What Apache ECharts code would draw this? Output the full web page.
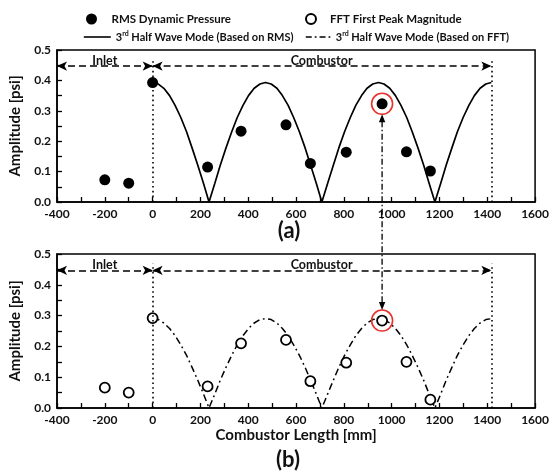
<!DOCTYPE html>
<html><head><meta charset="utf-8">
<script src="https://cdn.jsdelivr.net/npm/echarts@6/dist/echarts.min.js"></script>
<style>html,body{margin:0;padding:0;background:#fff}#c{width:552px;height:476px}</style>
</head><body><div id="c"></div>
<script>
// ---- data ----
const stationX = [-200, -100, 0, 230, 370, 558, 660, 810, 960, 1062, 1162];
const rmsPressure = [0.073, 0.062, 0.393, 0.115, 0.233, 0.254, 0.127, 0.164, 0.323, 0.165, 0.102];
const fftPeak = [0.066, 0.050, 0.292, 0.070, 0.210, 0.221, 0.087, 0.147, 0.284, 0.150, 0.027];
const highlightIndex = 8;

const modeX = [0,24,47,71,94,118,142,165,189,213,236,260,283,307,331,354,378,401,425,449,
  472,496,520,543,567,590,614,638,661,685,708,732,756,779,803,827,850,874,897,921,
  945,968,992,1016,1039,1063,1086,1110,1134,1157,1181,1205,1228,1252,1275,1299,1323,1346,1370,1394,
  1417];
const rmsMode = [0.393,0.388,0.374,0.350,0.318,0.278,0.231,0.178,0.121,0.061,0,0.061,0.121,0.178,0.231,0.278,0.318,0.350,0.374,0.388,
  0.393,0.388,0.374,0.350,0.318,0.278,0.231,0.178,0.121,0.061,0,0.061,0.121,0.178,0.231,0.278,0.318,0.350,0.374,0.388,
  0.393,0.388,0.374,0.350,0.318,0.278,0.231,0.178,0.121,0.061,0,0.061,0.121,0.178,0.231,0.278,0.318,0.350,0.374,0.388,
  0.393];
const fftMode = [0.290,0.287,0.276,0.258,0.235,0.205,0.171,0.132,0.090,0.045,0,0.045,0.090,0.132,0.171,0.205,0.235,0.258,0.276,0.287,
  0.290,0.287,0.276,0.258,0.235,0.205,0.171,0.132,0.090,0.045,0,0.045,0.090,0.132,0.171,0.205,0.235,0.258,0.276,0.287,
  0.290,0.287,0.276,0.258,0.235,0.205,0.171,0.132,0.090,0.045,0,0.045,0.090,0.132,0.171,0.205,0.235,0.258,0.276,0.287,
  0.290];

const inletRange = [-400, 0];
const combustorRange = [0, 1417];
const sectionY = 0.447;
const sectionLabels = ['Inlet', 'Combustor'];
const sectionLabelX = [-200, 707];
const xRange = [-400, 1600, 200];
const yRange = [0, 0.5, 0.1];
const panelLabels = ['(a)', '(b)'];
const seriesNames = ['RMS Dynamic Pressure', 'FFT First Peak Magnitude',
  '3rd Half Wave Mode (Based on RMS)', '3rd Half Wave Mode (Based on FFT)'];

// ---- chart ----
const FONT = 'Lato';
const DASHDOT = [7, 3.5, 1.8, 3.5];
const chart = echarts.init(document.getElementById('c'), null, {renderer: 'canvas'});
const zip = (xs, ys) => xs.map((x, i) => [x, ys[i]]);

function xAxis(gi, name) {
  return {
    type: 'value', gridIndex: gi, min: xRange[0], max: xRange[1], interval: xRange[2],
    name: name || '', nameLocation: 'middle', nameGap: 20,
    nameTextStyle: {fontFamily: FONT, fontWeight: 'bold', fontSize: 15, color: '#111'},
    axisLine: {show: true, onZero: false, lineStyle: {color: '#000', width: 1.5}},
    axisTick: {show: true, inside: true, length: 5, lineStyle: {color: '#000', width: 1.3}},
    minorTick: {show: true, splitNumber: 2, length: 5, lineStyle: {color: '#000', width: 1.3}},
    axisLabel: {margin: 6, fontFamily: FONT, fontWeight: 'bold', fontSize: 12, color: '#111',
      formatter: v => String(v)},
    splitLine: {show: false}
  };
}
function yAxis(gi) {
  return {
    type: 'value', gridIndex: gi, min: yRange[0], max: yRange[1], interval: yRange[2],
    name: 'Amplitude [psi]', nameLocation: 'middle', nameGap: 34,
    nameTextStyle: {fontFamily: FONT, fontWeight: 'bold', fontSize: 15, color: '#111'},
    axisLine: {show: true, onZero: false, lineStyle: {color: '#000', width: 1.5}},
    axisTick: {show: true, inside: true, length: 5, lineStyle: {color: '#000', width: 1.3}},
    minorTick: {show: true, splitNumber: 2, length: 5, lineStyle: {color: '#000', width: 1.3}},
    axisLabel: {margin: 6, fontFamily: FONT, fontWeight: 'bold', fontSize: 12, color: '#111',
      formatter: v => v.toFixed(1)},
    splitLine: {show: false}
  };
}

function sectionMarkLines() {
  const arrowStyle = {color: '#000', width: 1.5, type: [7, 4]};
  const dotStyle = {color: '#000', width: 1.6, type: [1.6, 3.2]};
  return {
    silent: true, animation: false,
    symbol: ['arrow', 'arrow'], symbolSize: [7, 10],
    label: {show: false},
    emphasis: {disabled: true},
    data: [
      [{coord: [inletRange[0], sectionY], lineStyle: arrowStyle}, {coord: [inletRange[1], sectionY]}],
      [{coord: [combustorRange[0], sectionY], lineStyle: arrowStyle}, {coord: [combustorRange[1], sectionY]}],
      [{coord: [combustorRange[0], 0], symbol: 'none', lineStyle: dotStyle}, {coord: [combustorRange[0], 0.468], symbol: 'none'}],
      [{coord: [combustorRange[1], 0], symbol: 'none', lineStyle: dotStyle}, {coord: [combustorRange[1], 0.468], symbol: 'none'}]
    ]
  };
}
function highlightMark(x, y) {
  return {
    silent: true, animation: false,
    symbol: 'circle', symbolSize: 21,
    itemStyle: {color: 'rgba(0,0,0,0)', borderColor: '#e8332c', borderWidth: 1.6, opacity: 1},
    label: {show: false},
    data: [{coord: [x, y]}]
  };
}

const legendText = {
  fontFamily: FONT, fontWeight: 'bold', fontSize: 11.5, color: '#111',
  rich: {sup: {fontFamily: FONT, fontWeight: 'bold', fontSize: 7, verticalAlign: 'top', lineHeight: 14, color: '#111'},
         base: {fontFamily: FONT, fontWeight: 'bold', fontSize: 11, lineHeight: 14, color: '#111'}}
};
const supFormatter = n => n.indexOf('3rd') === 0 ? '{base|3}{sup|rd}{base|' + n.slice(3) + '}' : n;
const hiddenSymbol = {color: 'rgba(0,0,0,0)', borderWidth: 0, opacity: 0};

const option = {
  animation: false,
  backgroundColor: '#fff',
  grid: [
    {left: 57, top: 50, width: 481, height: 152, show: true, borderColor: '#000', borderWidth: 1.5},
    {left: 57, top: 254, width: 481, height: 154, show: true, borderColor: '#000', borderWidth: 1.5}
  ],
  xAxis: [xAxis(0), xAxis(1, 'Combustor Length [mm]')],
  yAxis: [yAxis(0), yAxis(1)],
  legend: [
    {data: [seriesNames[0]], left: 81, top: 8, itemWidth: 30, itemHeight: 11, icon: 'circle', textStyle: legendText, selectedMode: false},
    {data: [seriesNames[1]], left: 300, top: 8, itemWidth: 28, itemHeight: 10, textStyle: legendText, selectedMode: false},
    {data: [seriesNames[2]], left: 78, top: 25, itemWidth: 27, itemHeight: 10, textStyle: legendText, formatter: supFormatter,
     selectedMode: false, itemStyle: hiddenSymbol, lineStyle: {color: '#000', width: 1.6, type: 'solid'}},
    {data: [seriesNames[3]], left: 300, top: 25, itemWidth: 25, itemHeight: 10, textStyle: legendText, formatter: supFormatter,
     selectedMode: false, itemStyle: hiddenSymbol, lineStyle: {color: '#000', width: 1.5, type: [6, 3, 1.8, 3]}}
  ],
  series: [
    {
      name: seriesNames[2], type: 'line', xAxisIndex: 0, yAxisIndex: 0,
      data: zip(modeX, rmsMode), symbol: 'none', silent: true,
      lineStyle: {color: '#000', width: 1.7}, itemStyle: {color: '#000'},
      markLine: sectionMarkLines(), z: 2
    },
    {
      name: seriesNames[0], type: 'scatter', xAxisIndex: 0, yAxisIndex: 0,
      data: zip(stationX, rmsPressure), symbol: 'circle', symbolSize: 11,
      itemStyle: {color: '#000', opacity: 1}, z: 3,
      markPoint: highlightMark(stationX[highlightIndex], rmsPressure[highlightIndex])
    },
    {
      name: seriesNames[3], type: 'line', xAxisIndex: 1, yAxisIndex: 1,
      data: zip(modeX, fftMode), symbol: 'none', silent: true,
      lineStyle: {color: '#000', width: 1.5, type: DASHDOT}, itemStyle: {color: '#000'},
      markLine: sectionMarkLines(), z: 2
    },
    {
      name: seriesNames[1], type: 'scatter', xAxisIndex: 1, yAxisIndex: 1,
      data: zip(stationX, fftPeak), symbol: 'circle', symbolSize: 10,
      itemStyle: {color: '#fff', borderColor: '#000', borderWidth: 1.8, opacity: 1}, z: 3,
      markPoint: highlightMark(stationX[highlightIndex], fftPeak[highlightIndex])
    }
  ]
};
chart.setOption(option);

// ---- annotations positioned through the axes ----
const hi = highlightIndex;
const pA = chart.convertToPixel({gridIndex: 0}, [stationX[hi], rmsPressure[hi]]);
const pB = chart.convertToPixel({gridIndex: 1}, [stationX[hi], fftPeak[hi]]);
const r = 10.5, ah = 8, aw = 3.2;
const yTop = pA[1] + r, yBot = pB[1] - r;
const gfx = [
  {type: 'line', silent: true, shape: {x1: pA[0], y1: yTop + ah - 1, x2: pB[0], y2: yBot - ah + 1},
   style: {stroke: '#000', lineWidth: 1.3, lineDash: [6, 2.5, 1.5, 2.5]}, z: 10},
  {type: 'polygon', silent: true, shape: {points: [[pA[0], yTop], [pA[0] - aw, yTop + ah], [pA[0] + aw, yTop + ah]]}, style: {fill: '#000'}, z: 10},
  {type: 'polygon', silent: true, shape: {points: [[pB[0], yBot], [pB[0] - aw, yBot - ah], [pB[0] + aw, yBot - ah]]}, style: {fill: '#000'}, z: 10}
];
[0, 1].forEach(gi => {
  sectionLabels.forEach((t, k) => {
    const p = chart.convertToPixel({gridIndex: gi}, [sectionLabelX[k], sectionY]);
    gfx.push({type: 'text', silent: true, x: p[0], y: p[1] + 1,
      style: {text: t, fontFamily: FONT, fontWeight: 'bold', fontSize: 12.5, fill: '#111',
              align: 'center', verticalAlign: 'bottom'}, z: 10});
  });
});
gfx.push({type: 'text', silent: true, x: 289, y: 231,
  style: {text: panelLabels[0], fontFamily: FONT, fontWeight: 'bold', fontSize: 22, fill: '#111', align: 'center', verticalAlign: 'middle'}});
gfx.push({type: 'text', silent: true, x: 288, y: 460,
  style: {text: panelLabels[1], fontFamily: FONT, fontWeight: 'bold', fontSize: 22, fill: '#111', align: 'center', verticalAlign: 'middle'}});
chart.setOption({graphic: gfx});
</script>
</body></html>
